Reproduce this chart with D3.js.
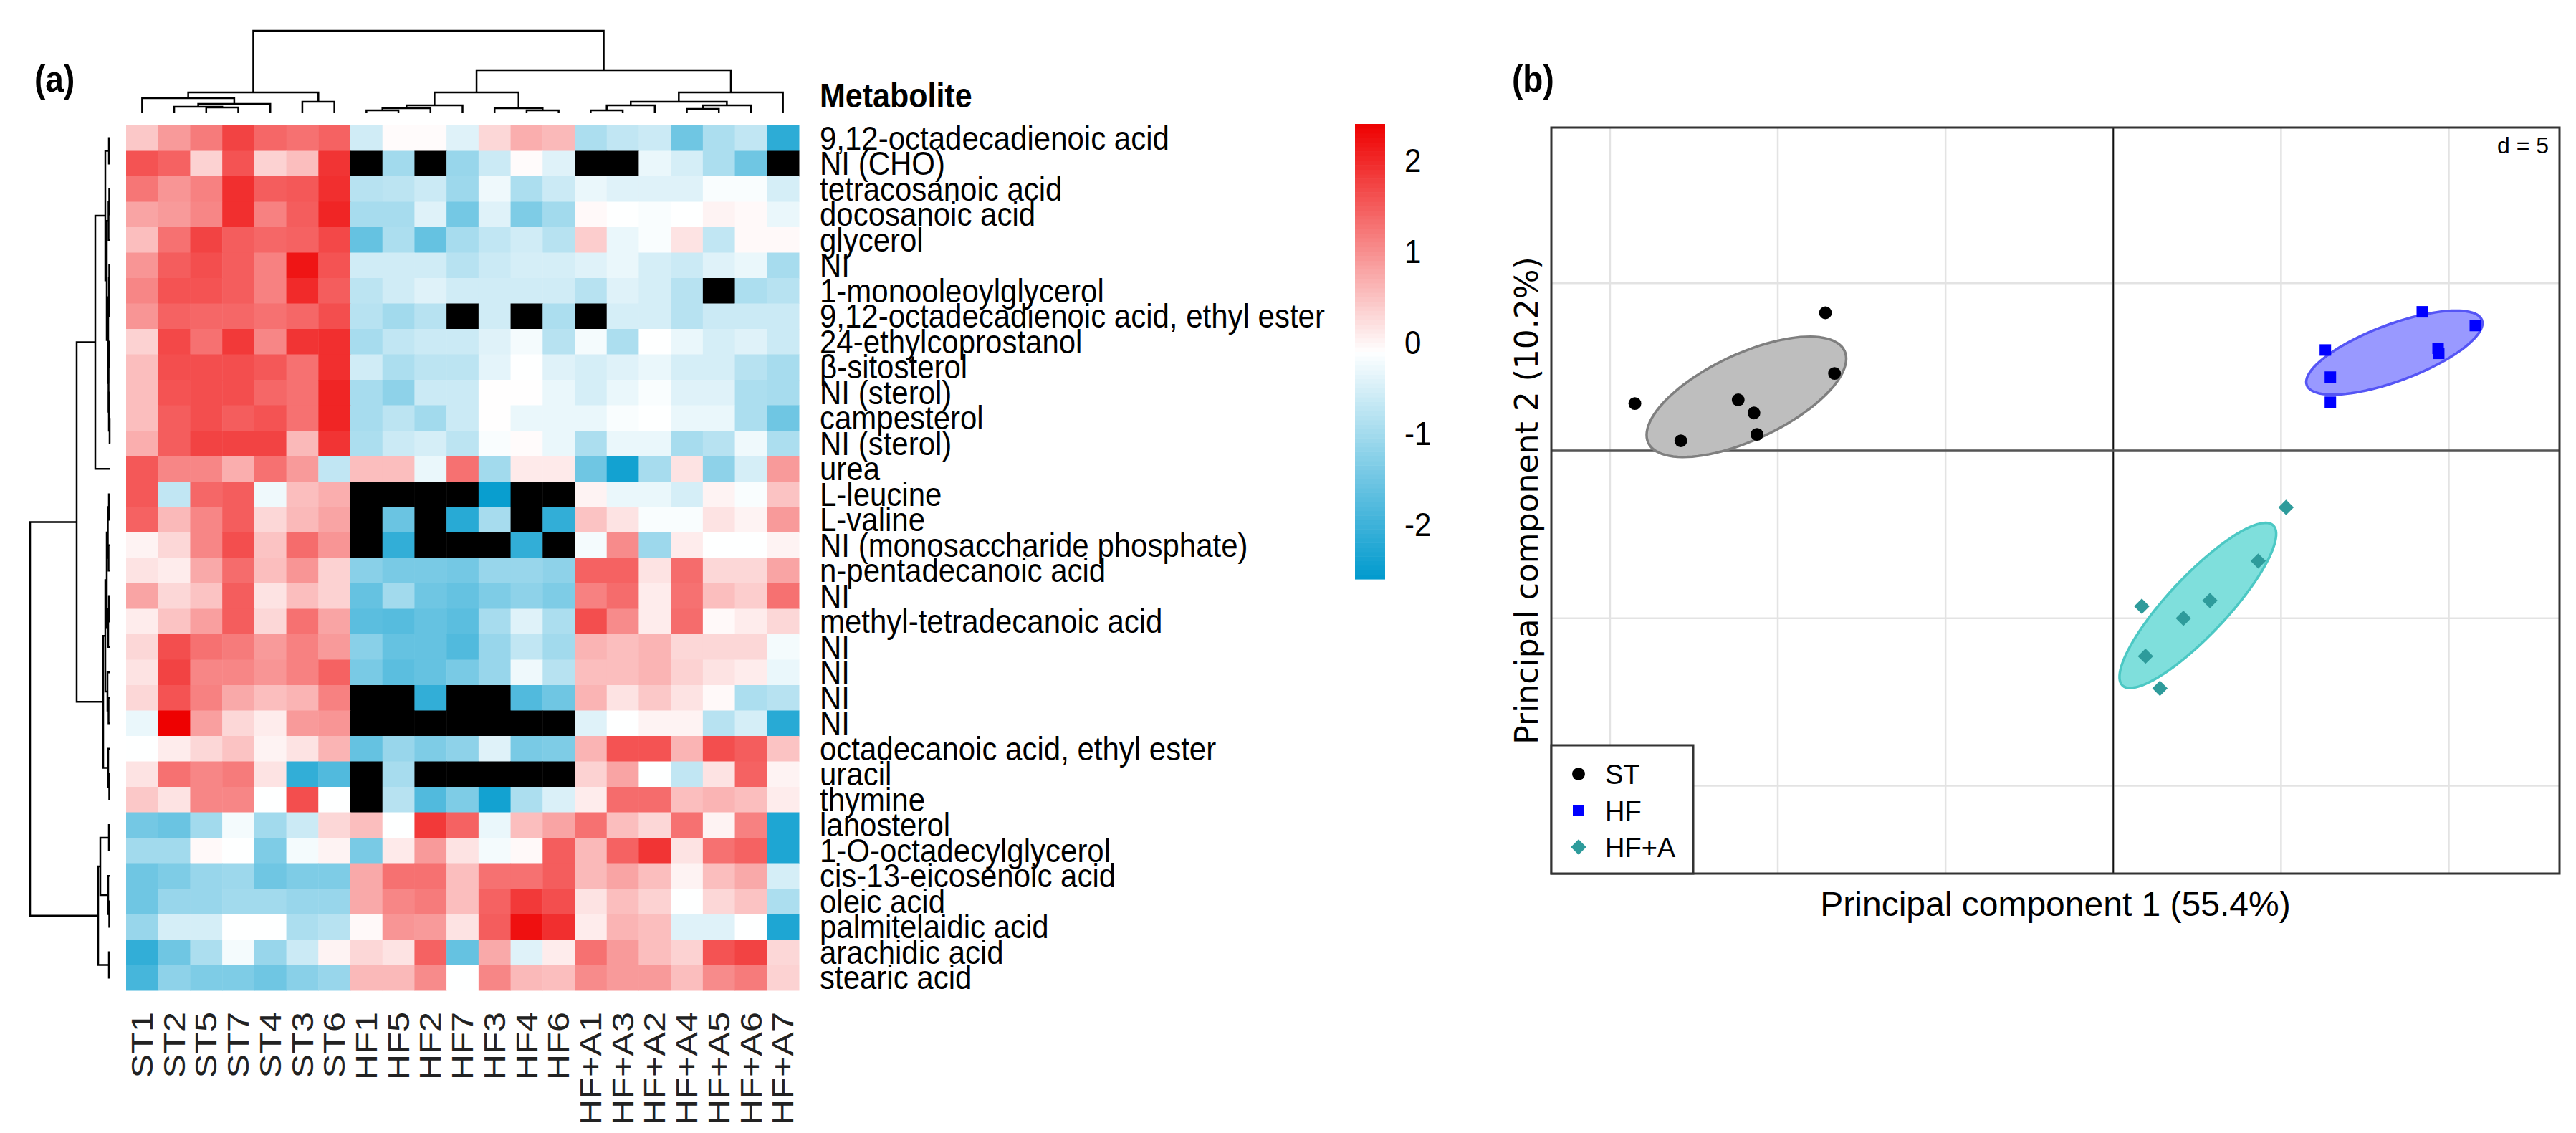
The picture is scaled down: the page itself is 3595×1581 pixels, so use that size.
<!DOCTYPE html>
<html>
<head>
<meta charset="utf-8">
<script src="https://cdn.jsdelivr.net/npm/d3@7"></script>
<style>
body { margin: 0; background: #fff; }
text { font-family: "Liberation Sans", Arial, sans-serif; }
</style>
</head>
<body>
<script>
// heatmap data
const samples = ["ST1","ST2","ST5","ST7","ST4","ST3","ST6","HF1","HF5","HF2","HF7","HF3","HF4","HF6",
                 "HF+A1","HF+A3","HF+A2","HF+A4","HF+A5","HF+A6","HF+A7"]
const metabolites = ["9,12-octadecadienoic acid","NI (CHO)","tetracosanoic acid","docosanoic acid","glycerol","NI",
  "1-monooleoylglycerol","9,12-octadecadienoic acid, ethyl ester","24-ethylcoprostanol","β-sitosterol","NI (sterol)",
  "campesterol","NI (sterol)","urea","L-leucine","L-valine","NI (monosaccharide phosphate)","n-pentadecanoic acid","NI",
  "methyl-tetradecanoic acid","NI","NI","NI","NI","octadecanoic acid, ethyl ester","uracil","thymine","lanosterol",
  "1-O-octadecylglycerol","cis-13-eicosenoic acid","oleic acid","palmitelaidic acid","arachidic acid","stearic acid"]
// z-scores, null = missing (black)
const zscores = [
  [0.45,0.9,1.2,1.75,1.4,1.3,1.45,-0.55,-0.05,-0.05,-0.4,0.3,0.7,0.6,-0.9,-0.7,-0.6,-1.5,-0.9,-0.7,-2.15],
  [1.6,1.45,0.35,1.6,0.35,0.55,1.9,null,-1.0,null,-1.1,-0.6,-0.05,-0.4,null,null,-0.3,-0.5,-0.9,-1.5,null],
  [1.25,0.95,1.15,1.95,1.5,1.55,1.95,-0.8,-0.75,-0.6,-1.05,-0.25,-0.9,-0.6,-0.3,-0.4,-0.4,-0.4,-0.15,-0.15,-0.5],
  [0.8,0.9,1.1,1.95,1.15,1.5,2.05,-0.95,-0.95,-0.4,-1.45,-0.4,-1.35,-1.0,-0.03,-0.1,-0.15,-0.1,0.03,-0.03,-0.3],
  [0.55,1.3,1.75,1.5,1.4,1.45,1.7,-1.6,-0.9,-1.6,-0.95,-0.7,-0.55,-0.8,0.4,-0.3,-0.15,0.18,-0.7,-0.03,-0.03],
  [0.95,1.5,1.65,1.5,1.15,2.2,1.6,-0.55,-0.55,-0.55,-0.8,-0.6,-0.5,-0.5,-0.4,-0.3,-0.5,-0.6,-0.4,-0.3,-0.95],
  [1.1,1.6,1.6,1.5,1.15,2.0,1.5,-0.75,-0.55,-0.4,-0.55,-0.55,-0.55,-0.55,-0.8,-0.4,-0.5,-0.8,null,-0.9,-0.8],
  [0.95,1.45,1.4,1.4,1.3,1.4,1.65,-0.8,-1.0,-0.8,null,-0.55,null,-0.9,null,-0.5,-0.5,-0.8,-0.6,-0.6,-0.6],
  [0.35,1.7,1.3,1.85,1.1,1.9,1.95,-0.95,-0.7,-0.6,-0.6,-0.4,-0.2,-0.8,-0.2,-0.9,-0.1,-0.3,-0.5,-0.4,-0.6],
  [0.55,1.65,1.65,1.65,1.55,1.3,1.95,-0.55,-0.9,-0.75,-0.75,-0.35,-0.1,-0.4,-0.5,-0.4,-0.3,-0.5,-0.5,-0.8,-0.95],
  [0.55,1.6,1.65,1.65,1.4,1.3,2.05,-0.95,-1.2,-0.6,-0.6,-0.08,-0.08,-0.3,-0.5,-0.3,-0.15,-0.4,-0.4,-0.9,-0.95],
  [0.55,1.5,1.65,1.5,1.6,1.3,2.05,-0.95,-0.75,-1.0,-0.6,-0.08,-0.3,-0.3,-0.3,-0.15,-0.1,-0.3,-0.3,-0.9,-1.5],
  [0.7,1.5,1.75,1.75,1.75,0.6,1.9,-0.9,-0.6,-0.5,-0.75,-0.15,-0.05,-0.3,-0.9,-0.3,-0.3,-0.95,-0.8,-0.25,-0.9],
  [1.55,1.1,1.1,0.7,1.3,0.9,-0.7,0.55,0.55,-0.3,1.3,-1.0,0.12,0.12,-1.5,-2.4,-0.95,0.18,-1.2,-0.5,0.9],
  [1.55,-0.7,1.4,1.5,-0.25,0.55,0.7,null,null,null,null,-2.5,null,null,0.03,-0.3,-0.3,-0.5,0.03,-0.15,0.5],
  [1.45,0.6,1.1,1.5,0.3,0.6,0.8,null,-1.55,null,-2.2,-0.95,null,-2.1,0.5,0.18,-0.15,-0.15,0.18,0.03,0.9],
  [0.03,0.3,1.1,1.65,0.5,1.35,0.95,null,-2.1,null,null,null,-2.1,null,-0.2,1.05,-1.05,0.1,-0.1,-0.1,0.03],
  [0.18,0.1,0.75,1.35,0.55,0.95,0.35,-1.25,-1.4,-1.4,-1.45,-1.1,-1.1,-1.2,1.45,1.45,0.18,1.35,0.3,0.3,0.8],
  [0.8,0.3,0.5,1.5,0.18,0.55,0.35,-1.6,-1.0,-1.5,-1.6,-1.35,-1.2,-1.35,1.15,1.35,0.1,1.3,0.55,0.4,1.3],
  [0.1,0.5,0.85,1.5,0.3,1.3,0.8,-1.7,-1.75,-1.6,-1.7,-0.95,-0.4,-0.9,1.65,1.05,0.1,1.35,-0.03,0.1,0.3],
  [0.3,1.65,1.3,1.2,0.9,1.15,0.9,-1.25,-1.6,-1.6,-1.8,-1.1,-0.7,-1.0,0.65,0.55,0.65,0.3,0.3,0.3,-0.2],
  [0.18,1.75,1.1,1.1,0.95,1.15,1.45,-1.4,-1.7,-1.6,-1.4,-1.1,-0.25,-0.8,0.55,0.55,0.65,0.35,0.18,0.1,-0.3],
  [0.3,1.6,1.15,0.75,0.55,0.65,1.15,null,null,-2.1,null,null,-1.8,-1.5,0.65,0.18,0.45,0.18,-0.03,-0.9,-0.8],
  [-0.3,2.4,0.85,0.3,0.1,0.9,0.95,null,null,null,null,null,null,null,-0.4,-0.1,0.03,0.03,-0.8,-0.5,-2.2],
  [-0.1,0.1,0.3,0.5,0.03,0.18,0.65,-1.6,-1.1,-1.35,-1.2,-0.4,-1.4,-1.35,0.65,1.6,1.6,0.65,1.65,1.5,0.5],
  [0.18,1.3,1.1,1.2,0.18,-2.1,-1.8,null,-0.95,null,null,null,null,null,0.35,0.8,-0.1,-0.7,0.18,1.45,0.03],
  [0.45,0.18,1.1,1.1,-0.1,1.65,-0.1,null,-0.8,-1.8,-1.35,-2.4,-0.9,-0.45,0.1,1.35,1.35,0.55,0.65,0.55,0.1],
  [-1.45,-1.55,-1.0,-0.2,-1.0,-0.6,0.3,0.55,-0.1,1.85,1.45,-0.3,0.55,0.8,1.3,0.55,0.3,1.3,0.03,1.15,-2.3],
  [-1.0,-1.0,-0.03,-0.1,-1.35,-0.2,0.03,-1.4,0.12,0.9,0.18,-0.2,-0.03,1.5,0.6,1.45,1.9,0.18,1.3,1.45,-2.3],
  [-1.5,-1.35,-1.1,-1.05,-1.5,-1.35,-1.35,0.75,1.3,1.3,0.55,1.3,1.3,1.5,0.6,0.8,0.55,0.03,0.55,0.75,-0.5],
  [-1.5,-1.1,-1.1,-1.0,-1.0,-1.1,-1.1,0.75,1.1,1.2,0.55,1.45,1.85,1.65,0.18,0.55,0.35,-0.1,0.3,0.5,-0.9],
  [-1.1,-0.5,-0.5,-0.1,-0.1,-0.9,-0.8,-0.03,0.95,0.9,0.18,1.5,2.25,1.95,0.1,0.65,0.55,-0.4,-0.4,-0.1,-2.3],
  [-2.1,-1.5,-0.9,-0.2,-1.1,-0.6,0.03,0.3,0.18,1.45,-1.6,0.75,-0.4,0.1,1.3,0.9,0.55,0.35,1.6,1.75,0.3],
  [-1.9,-1.2,-1.35,-1.35,-1.5,-1.25,-1.1,0.6,0.6,1.05,-0.1,1.1,0.6,0.55,1.05,0.9,0.9,0.55,1.05,1.2,0.35]
]
const colorRange = [-2.59, 2.41]
const colorTicks = [2, 1, 0, -1, -2]

// dendrograms: [height, left, right], leaves = row / column index
const colTree = [115,
  [29, [21, 0, [13, [9, 1, [8, 2, 3]], 4]], [16, 5, 6]],
  [60,
    [29, [11, [7, [4, 7, 8], 9], 10], [7, 11, [4, 12, 13]]],
    [29, [16, [11, [4, 14, 15], 16], [11, [6, 17, 18], 19]], 20]]]
const rowTree = [112,
  [47,
    [21, [7, [2, 0, 1], [5, [2.5, [1.5, 2, 3], 4],
          [3, [2, [1.5, 5, 6], 7], [2.5, [1.5, 8, 9], [2, 10, [1, 11, 12]]]]]], 13],
    [10, [7, [5, [3.5, [2, 14, 15], [2.5, 16, 17]], [3, [2, 18, 19], 20]], [4, 21, [2.5, 22, 23]]],
         [3, 24, [1.5, 25, 26]]]],
  [17, [14, [2, 27, 28], [3, 29, [1.5, 30, 31]]], [2, 32, 33]]]

// PCA scores
const groups = ["ST", "HF", "HF+A"]
const scoresST = [[-14.26,1.41],[-12.89,0.30],[-11.18,1.52],[-10.71,1.13],[-10.62,0.49],[-8.58,4.12],[-8.31,2.31]]
const scoresHF = [[9.21,4.15],[10.79,3.74],[6.32,3.01],[9.68,3.06],[9.70,2.91],[6.47,2.20],[6.47,1.45]]
const scoresHFA = [[5.15,-1.69],[4.32,-3.29],[2.88,-4.47],[0.85,-4.64],[2.09,-5.0],[0.96,-6.13],[1.39,-7.09]]
const gridStep = 5
const pc1Label = "Principal component 1 (55.4%)"
const pc2Label = "Principal component 2 (10.2%)"

// the heatmap panel text is a bit taller than wide in the figure
const stretch = 1.12

const svg = d3.select("body").append("svg")
  .attr("width", 3595).attr("height", 1581)
  .style("background", "#fff")

svg.append("text").text("(a)")
  .attr("transform", "translate(48,128) scale(1," + stretch + ")")
  .attr("font-size", 46).attr("font-weight", "bold")
svg.append("text").text("(b)")
  .attr("transform", "translate(2110,128) scale(1," + stretch + ")")
  .attr("font-size", 46).attr("font-weight", "bold")

// ---------- heatmap ----------
const hx = d3.scaleBand().domain(samples).range([176, 1115])
const hy = d3.scaleBand().domain(d3.range(metabolites.length)).range([175, 1382])
const color = d3.scaleLinear()
  .domain([colorRange[0], (colorRange[0] + colorRange[1]) / 2, colorRange[1]])
  .range(["#009ACD", "#FFFFFF", "#EE0000"])

const cells = []
zscores.forEach((row, i) => row.forEach((v, j) => cells.push({i, j, v})))
svg.append("g").selectAll("rect").data(cells).enter().append("rect")
  .attr("x", d => hx(samples[d.j]))
  .attr("y", d => hy(d.i))
  .attr("width", hx.bandwidth() + 0.5)
  .attr("height", hy.bandwidth() + 0.5)
  .attr("fill", d => d.v === null ? "#000" : color(d.v))

svg.append("g").selectAll("text").data(metabolites).enter().append("text")
  .text(d => d)
  .attr("transform", (d, i) => "translate(1144," + (hy(i) + hy.bandwidth() - 2) + ") scale(1," + stretch + ")")
  .attr("font-size", 42)

svg.append("text").text("Metabolite")
  .attr("transform", "translate(1144,150) scale(1," + stretch + ")")
  .attr("font-size", 43).attr("font-weight", "bold")

svg.append("g").selectAll("text").data(samples).enter().append("text")
  .text(d => d)
  .attr("transform", d => "translate(" + (hx(d) + hx.bandwidth() / 2) + ",1412) rotate(-90) scale(1.2,1)")
  .attr("text-anchor", "end")
  .attr("dy", "0.35em")
  .attr("font-size", 42)
  .attr("fill", "#222")

// dendrograms
function walk(node, segs) {
  if (typeof node === "number") return {p: node + 0.5, h: 0}
  const a = walk(node[1], segs)
  const b = walk(node[2], segs)
  segs.push({a, b, h: node[0]})
  return {p: (a.p + b.p) / 2, h: node[0]}
}
const colSegs = []
walk(colTree, colSegs)
const cPos = d3.scaleLinear().domain([0, samples.length]).range([176, 1115])
const cH = d3.scaleLinear().domain([0, colTree[0]]).range([158, 43])
svg.append("g").selectAll("path").data(colSegs).enter().append("path")
  .attr("d", s => "M" + cPos(s.a.p) + "," + cH(s.a.h) + "V" + cH(s.h) + "H" + cPos(s.b.p) + "V" + cH(s.b.h))
  .attr("fill", "none").attr("stroke", "#000").attr("stroke-width", 2.5)

const rowSegs = []
walk(rowTree, rowSegs)
const rPos = d3.scaleLinear().domain([0, metabolites.length]).range([175, 1382])
const rH = d3.scaleLinear().domain([0, rowTree[0]]).range([154, 42])
svg.append("g").selectAll("path").data(rowSegs).enter().append("path")
  .attr("d", s => "M" + rH(s.a.h) + "," + rPos(s.a.p) + "H" + rH(s.h) + "V" + rPos(s.b.p) + "H" + rH(s.b.h))
  .attr("fill", "none").attr("stroke", "#000").attr("stroke-width", 2.5)

// colour bar
const cbY = d3.scaleLinear().domain(colorRange).range([808, 173])
const steps = d3.range(100).map(k => colorRange[0] + (colorRange[1] - colorRange[0]) * k / 100)
const stepH = (colorRange[1] - colorRange[0]) / 100
svg.append("g").selectAll("rect").data(steps).enter().append("rect")
  .attr("x", 1891).attr("width", 42)
  .attr("y", d => cbY(d + stepH))
  .attr("height", d => cbY(d) - cbY(d + stepH) + 0.6)
  .attr("fill", d => color(d + stepH / 2))
svg.append("g").selectAll("text").data(colorTicks).enter().append("text")
  .text(d => d)
  .attr("transform", d => "translate(1960," + (cbY(d) + 15) + ") scale(1," + stretch + ")")
  .attr("font-size", 42)

// ---------- PCA ----------
const px = d3.scaleLinear().domain([-16.75, 13.3]).range([2165, 3572])
const py = d3.scaleLinear().domain([-12.62, 9.65]).range([1219, 178])
const pca = svg.append("g")

const gx = d3.range(Math.ceil(-16.75 / gridStep), Math.floor(13.3 / gridStep) + 1).map(k => k * gridStep)
const gy = d3.range(Math.ceil(-12.62 / gridStep), Math.floor(9.65 / gridStep) + 1).map(k => k * gridStep)
pca.selectAll(".gx").data(gx).enter().append("line")
  .attr("x1", d => px(d)).attr("x2", d => px(d)).attr("y1", py.range()[1]).attr("y2", py.range()[0])
  .attr("stroke", "#E3E3E3").attr("stroke-width", 2.5)
pca.selectAll(".gy").data(gy).enter().append("line")
  .attr("y1", d => py(d)).attr("y2", d => py(d)).attr("x1", px.range()[0]).attr("x2", px.range()[1])
  .attr("stroke", "#E3E3E3").attr("stroke-width", 2.5)
pca.append("line").attr("x1", px(0)).attr("x2", px(0)).attr("y1", 178).attr("y2", 1219)
  .attr("stroke", "#111").attr("stroke-width", 2)
pca.append("line").attr("y1", py(0)).attr("y2", py(0)).attr("x1", 2165).attr("x2", 3572)
  .attr("stroke", "#555").attr("stroke-width", 3.5)

// ade4-style class ellipse (1.5 x standard deviations)
function ellipse(pts) {
  const mx = d3.mean(pts, d => d[0]), my = d3.mean(pts, d => d[1])
  const vx = d3.mean(pts, d => (d[0] - mx) ** 2)
  const vy = d3.mean(pts, d => (d[1] - my) ** 2)
  const cxy = d3.mean(pts, d => (d[0] - mx) * (d[1] - my))
  const delta = Math.sqrt((vx - vy) ** 2 + 4 * cxy * cxy)
  const e1 = (vx + vy + delta) / 2
  const l1 = Math.sqrt(e1), l2 = Math.sqrt(Math.max(0, vx + vy - e1))
  let a0 = 1, b0 = (e1 - vx) / cxy
  const nr = Math.hypot(a0, b0)
  a0 /= nr; b0 /= nr
  const k = 1.5
  return d3.range(100).map(i => {
    const t = 2 * Math.PI * i / 100
    return [mx + k * a0 * l1 * Math.cos(t) - k * b0 * l2 * Math.sin(t),
            my + k * b0 * l1 * Math.cos(t) + k * a0 * l2 * Math.sin(t)]
  })
}
const line = d3.line().x(d => px(d[0])).y(d => py(d[1])).curve(d3.curveLinearClosed)
const styles = [
  {pts: scoresST, fill: "#BEBEBE", stroke: "#7F7F7F", dot: "#000", sym: d3.symbolCircle, size: 250, rot: 0},
  {pts: scoresHF, fill: "#9999FF", stroke: "#5555F5", dot: "#0000FF", sym: d3.symbolSquare, size: 256, rot: 0},
  {pts: scoresHFA, fill: "#7FDFDC", stroke: "#4CC8C4", dot: "#2E9B9B", sym: d3.symbolSquare, size: 230, rot: 45}
]
styles.forEach(s => {
  pca.append("path").attr("d", line(ellipse(s.pts)))
    .attr("fill", s.fill).attr("stroke", s.stroke).attr("stroke-width", 3.5)
})
styles.forEach(s => {
  pca.append("g").selectAll("path").data(s.pts).enter().append("path")
    .attr("d", d3.symbol().type(s.sym).size(s.size))
    .attr("transform", d => "translate(" + px(d[0]) + "," + py(d[1]) + ") rotate(" + s.rot + ")")
    .attr("fill", s.dot)
})

pca.append("rect").attr("x", 2165).attr("y", 178).attr("width", 3572 - 2165).attr("height", 1219 - 178)
  .attr("fill", "none").attr("stroke", "#333").attr("stroke-width", 3)

pca.append("text").text("d = " + gridStep).attr("x", 3557).attr("y", 214)
  .attr("text-anchor", "end").attr("font-size", 32)

// legend
const lg = pca.append("g")
lg.append("rect").attr("x", 2165).attr("y", 1040).attr("width", 198).attr("height", 179)
  .attr("fill", "#fff").attr("stroke", "#333").attr("stroke-width", 3)
groups.forEach((g, i) => {
  const s = styles[i]
  const yy = 1080 + i * 51
  lg.append("path").attr("d", d3.symbol().type(s.sym).size(s.size))
    .attr("transform", "translate(2203," + yy + ") rotate(" + s.rot + ")")
    .attr("fill", s.dot)
  lg.append("text").text(g).attr("x", 2240).attr("y", yy).attr("dy", "0.36em").attr("font-size", 38)
})

svg.append("text").text(pc1Label).attr("x", (2165 + 3572) / 2).attr("y", 1278)
  .attr("text-anchor", "middle").attr("font-size", 48)
svg.append("text").text(pc2Label)
  .attr("transform", "translate(2146," + (178 + 1219) / 2 + ") rotate(-90)")
  .attr("text-anchor", "middle").attr("font-size", 44)
  .style("font-family", "'DejaVu Sans', sans-serif")
</script>
</body>
</html>
